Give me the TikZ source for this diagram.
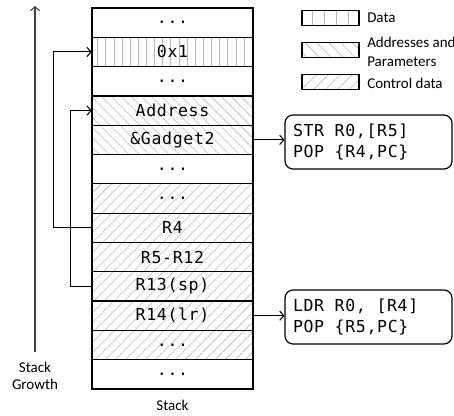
\documentclass[tikz,border=0pt]{standalone}
\usepackage{fontspec}
\setmainfont{Carlito}
\newfontfamily\cellfont[LetterSpace=4]{DejaVu Sans Mono}
\newcommand\msp{\hspace{0.64em}}
\usetikzlibrary{patterns.meta,arrows.meta}
\begin{document}
\begin{tikzpicture}[x=0.75pt,y=-0.75pt,
  cell/.style={draw, line width=0.9pt, minimum width=120.75pt, minimum height=21.98pt, inner sep=0pt,
    font=\cellfont\fontsize{12.4}{14}\selectfont},
  datah/.style={pattern={Lines[angle=90,distance=6.1pt,line width=0.5pt]}, pattern color=black!28},
  addrh/.style={pattern={Lines[angle=-45,distance=5.3pt,line width=0.45pt]}, pattern color=black!28},
  ctrlh/.style={pattern={Lines[angle=45,distance=5.3pt,line width=0.45pt]}, pattern color=black!28},
  ldatah/.style={pattern={Lines[angle=90,distance=9pt,line width=0.5pt]}, pattern color=black!28},
  laddrh/.style={pattern={Lines[angle=-45,distance=6.3pt,line width=0.45pt]}, pattern color=black!28},
  lctrlh/.style={pattern={Lines[angle=45,distance=6.3pt,line width=0.45pt]}, pattern color=black!28},
  leg/.style={draw, line width=0.8pt, minimum width=42.75pt, minimum height=11pt, inner sep=0pt},
  legtext/.style={anchor=west, inner sep=0pt, font=\fontsize{11.25}{14.25}\selectfont, align=left},
  code/.style={draw, line width=0.9pt, rounded corners=6pt, minimum height=40.5pt, inner xsep=6pt,
    text width=113.25pt, align=left, font=\cellfont\fontsize{12.4}{15.5}\selectfont},
  arr/.style={line width=0.8pt, -{Straight Barb[length=3pt,width=7pt]}},
  lbl/.style={inner sep=0pt, font=\fontsize{11.25}{12.75}\selectfont, align=center}
]
\useasboundingbox (0,0) rectangle (454,415);

% stack cells
\node[cell] (r1) at (172.5,22.65) {...};
\node[cell,datah] (r2) at (172.5,51.96) {0x1};
\node[cell] (r3) at (172.5,81.27) {...};
\node[cell,addrh] (r4) at (172.5,110.58) {Address};
\node[cell,addrh] (r5) at (172.5,139.89) {\&Gadget2};
\node[cell] (r6) at (172.5,169.2) {...};
\node[cell,ctrlh] (r7) at (172.5,198.5) {...};
\node[cell,ctrlh] (r8) at (172.5,227.8) {R4};
\node[cell,ctrlh] (r9) at (172.5,257.1) {R5-R12};
\node[cell,ctrlh] (r10) at (172.5,286.4) {R13(sp)};
\node[cell,ctrlh] (r11) at (172.5,315.7) {R14(lr)};
\node[cell,ctrlh] (r12) at (172.5,345.0) {...};
\node[cell] (r13) at (172.5,374.3) {...};

\node[lbl] (stk) at (172.5,405) {Stack};

% stack growth
\node[lbl] (sg) at (35,376) {Stack\\Growth};
\coordinate (gbot) at (35,352);
\coordinate (gtop) at (35,6);
\draw[arr, black!75] (gbot) -- (gtop);

% return arrows
\draw[arr] (r8.west) -- ++(-38,0) |- (r2.west);
\draw[arr] (r10.west) -- ++(-21,0) |- (r4.west);

% gadgets
\node[code] (b1) at (368.5,142) {STR\msp R0,[R5]\\POP\msp\{R4,PC\}};
\node[code] (b2) at (368.5,317) {LDR\msp R0,\msp[R4]\\POP\msp\{R5,PC\}};
\draw[arr] (r5.east) -- (r5.east -| b1.west);
\draw[arr] (r11.east) -- (r11.east -| b2.west);

% legend
\node[leg,ldatah] (l1) at (330.5,18) {};
\node[leg,laddrh] (l2) at (330.5,50) {};
\node[leg,lctrlh] (l3) at (330.5,82) {};
\node[legtext] (t1) at (367,18) {Data};
\node[legtext] (t2) at (367,51.5) {Addresses and\\Parameters};
\node[legtext] (t3) at (367,83) {Control data};
\end{tikzpicture}
\end{document}
